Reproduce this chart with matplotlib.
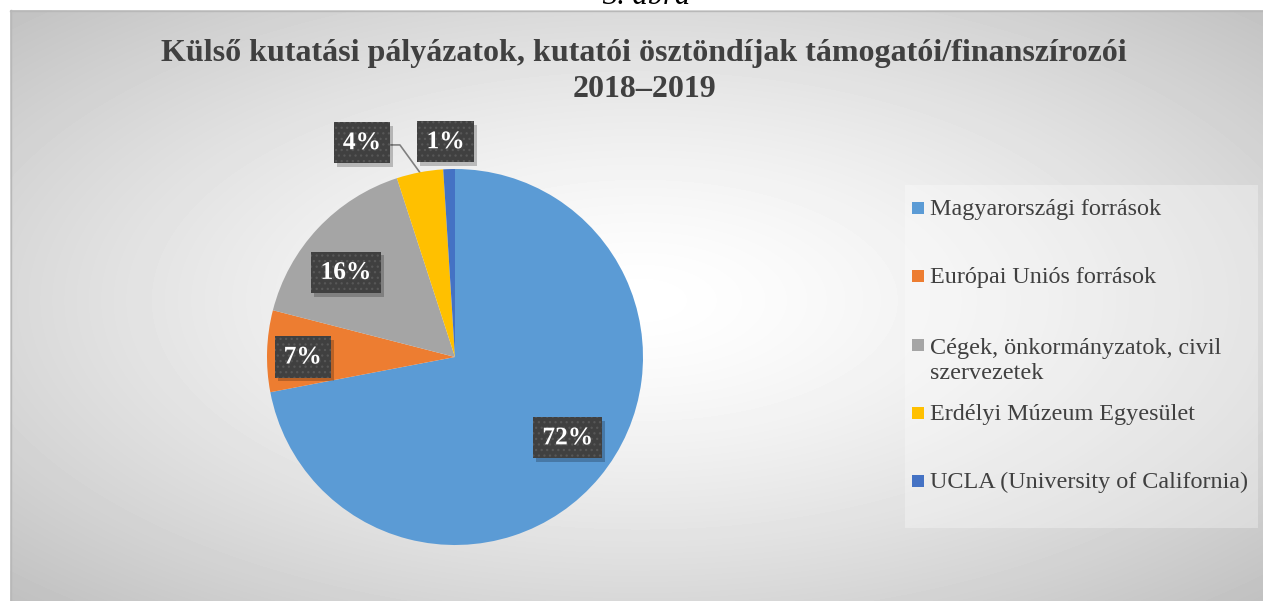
import numpy as np
import matplotlib.pyplot as plt
from matplotlib import patheffects
from matplotlib.patches import Rectangle
from matplotlib.transforms import ScaledTranslation

W, H = 1263, 601

labels = ['Magyarországi források', 'Európai Uniós források',
          'Cégek, önkormányzatok, civil\nszervezetek',
          'Erdélyi Múzeum Egyesület', 'UCLA (University of California)']
shares = [72, 7, 16, 4, 1]
colors = ['#5B9BD5', '#ED7D31', '#A5A5A5', '#FFC000', '#4472C4']
pct_labels = ['72%', '7%', '16%', '4%', '1%']

title = 'Külső kutatási pályázatok, kutatói ösztöndíjak támogatói/finanszírozói'
subtitle = '2018–2019'

# where the data label boxes sit, in pie radii
label_pos = [(0.60, -0.43), (-0.81, 0.0), (-0.58, 0.45), (-0.495, 1.14), (-0.05, 1.145)]

plt.rcParams['font.family'] = ['Liberation Serif', 'DejaVu Serif']
plt.rcParams['hatch.linewidth'] = 0.9

fig = plt.figure(figsize=(W / 100, H / 100), dpi=100)
bg = fig.add_axes([0, 0, 1, 1])

# radial grey background of the chart area
yy, xx = np.mgrid[10:H, 10:W]
d = np.hypot((xx - 640) / 640, (yy - 300) / 300) / np.sqrt(2)
shade = 1 - 0.25 * d ** 1.4
bg.imshow(shade, cmap='gray', vmin=0, vmax=1, extent=(10, W, H, 10),
          aspect='auto', interpolation='bilinear')
bg.plot([10, W], [10.5, 10.5], color='#b8b8b8', lw=1)
bg.plot([10.5, 10.5], [10, H], color='#b8b8b8', lw=1)
bg.set_xlim(0, W)
bg.set_ylim(H, 0)
bg.axis('off')

bg.text(646, 4, '3. ábra', ha='center', va='baseline', style='italic',
        fontsize=22, color='black')
bg.text(644, 61, title, ha='center', va='baseline', fontsize=23,
        weight='bold', color='#404040')
bg.text(644, 97, subtitle, ha='center', va='baseline', fontsize=23,
        weight='bold', color='#404040')

# legend, drawn by hand to keep Excel's even slots
bg.add_patch(Rectangle((905, 185), 353, 343, facecolor='white', alpha=0.3, lw=0))
for i, (lab, col) in enumerate(zip(labels, colors)):
    yc = 208 + 68.3 * i
    nl = lab.count('\n')
    bg.add_patch(Rectangle((912, yc - 6), 12, 12, facecolor=col, lw=0))
    bg.text(930, yc + 7 + 27.5 * nl, lab, ha='left', va='baseline', fontsize=17.4,
            color='#404040', linespacing=1.25)

# pie
r_px = 188
cx, cy = 455, 357
ax = fig.add_axes([(cx - r_px) / W, (H - cy - r_px) / H, 2 * r_px / W, 2 * r_px / H])
wedges, _ = ax.pie(shares, colors=colors, startangle=90, counterclock=False,
                   radius=1, wedgeprops=dict(lw=0))
ax.set_xlim(-1, 1)
ax.set_ylim(-1, 1)
ax.set_aspect('equal')
ax.axis('off')

shift = ax.transData + ScaledTranslation(0.03, -0.035, fig.dpi_scale_trans)
for (x, y), txt in zip(label_pos, pct_labels):
    # soft drop shadow behind the box
    ax.text(x, y, txt, ha='center', va='center', fontsize=18.3, weight='bold',
            alpha=0, transform=shift,
            bbox=dict(boxstyle='square,pad=0.36', facecolor='black', alpha=0.22, lw=0))
    t = ax.text(x, y, txt, ha='center', va='center', fontsize=18.3,
                weight='bold', color='white',
                bbox=dict(boxstyle='square,pad=0.36', facecolor='#404040',
                          edgecolor='#575757', lw=0, hatch='...'))
    t.set_path_effects([patheffects.withSimplePatchShadow(offset=(1, -1), alpha=0.5)])

# leader line for the small yellow slice
w = wedges[3]
mid = np.deg2rad((w.theta1 + w.theta2) / 2)
ex, ey = np.cos(mid), np.sin(mid)
ax.plot([-0.34, -0.293, ex], [1.128, 1.128, ey], color='#808080', lw=1.2,
        clip_on=False, zorder=0.5)

fig.savefig('out.png', dpi=100)
